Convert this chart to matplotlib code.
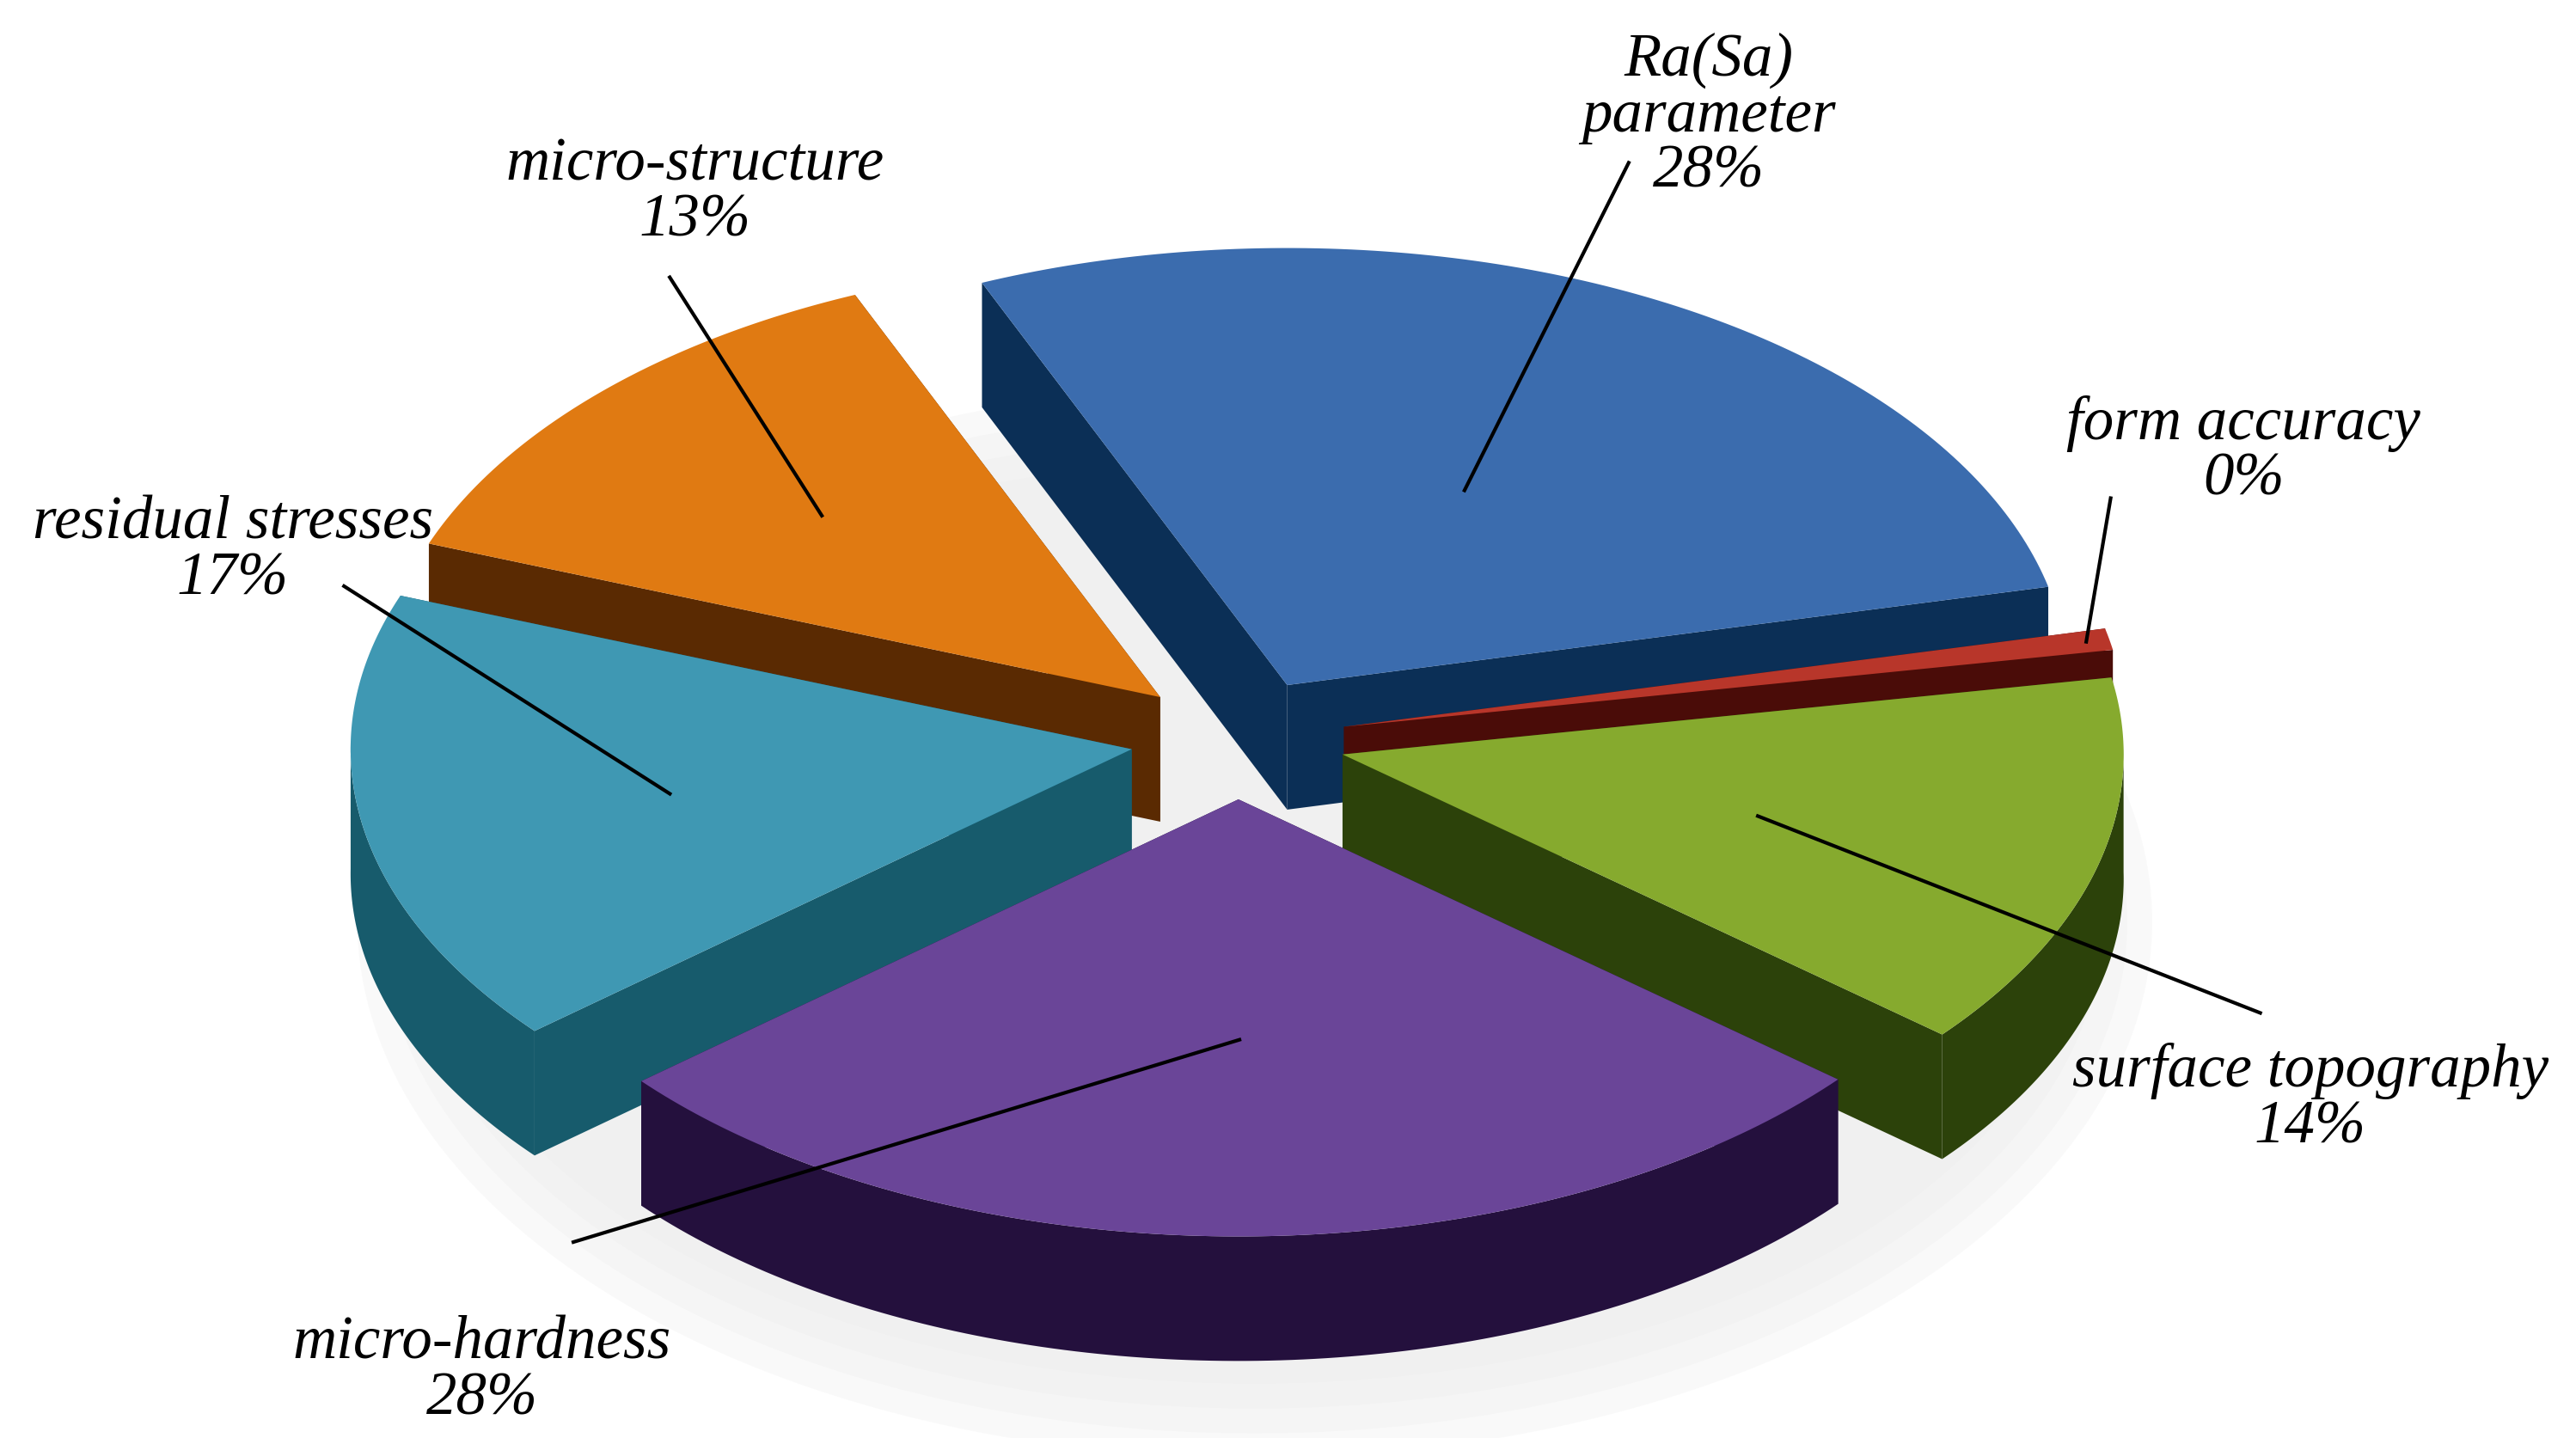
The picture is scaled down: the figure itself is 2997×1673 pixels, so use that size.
import matplotlib.pyplot as plt
import numpy as np
from matplotlib.patches import Polygon, Ellipse

labels = ["Ra(Sa)\nparameter\n28%", "form accuracy\n0%", "surface topography\n14%",
          "micro-hardness\n28%", "residual stresses\n17%", "micro-structure\n13%"]
values = [28, 0.8, 14, 28, 17, 13]
top_colors = ["#3b6cae", "#b8362a", "#86aa2e", "#6a4598", "#3f98b3", "#e07a12"]
side_colors = ["#0b2f56", "#4a0c08", "#2c420a", "#24103d", "#175b6c", "#5a2a02"]
# label text position (reference pixel coords, 1550 wide) and leader line start
label_pos = [(1028, 70), (1350, 272), (1390, 662), (290, 826), (140, 332), (418, 116)]
line_start = [(980, 98), (1270, 300), (1360, 610), (345, 748), (207, 353), (403, 167)]
line_frac = [0.5, 0.97, 0.55, 0.55, 0.6, 0.6]

cx, cy = 745, 445
R, K, DEPTH, EXPL = 470, 0.56, 75, 65
start = np.deg2rad(113)

fig = plt.figure(figsize=(29.97, 16.73), dpi=100)
ax = fig.add_axes([0, 0, 1, 1])
ax.set_xlim(0, 1550)
ax.set_ylim(866, 0)
ax.axis("off")

# soft shadow
for i, a in enumerate(np.linspace(0.05, 0.02, 4)):
    ax.add_patch(Ellipse((cx + 10, cy + 110), 2 * R + 140 - i * 30, 2 * R * K + 120 - i * 30,
                         color="#999999", alpha=a, lw=0, zorder=0))


def pt(t, r, ox, oy, z=0.0):
    return (cx + ox + r * np.cos(t), cy + oy - r * K * np.sin(t) + z)


total = sum(values)
wedges = []
a0 = start
for v in values:
    a1 = a0 - 2 * np.pi * v / total
    wedges.append((a0, a1))
    a0 = a1

order = sorted(range(len(values)), key=lambda i: -np.sin((wedges[i][0] + wedges[i][1]) / 2))
z = 1
for i in order:
    a0, a1 = wedges[i]
    mid = (a0 + a1) / 2
    ox, oy = EXPL * np.cos(mid), -EXPL * K * np.sin(mid)
    c = pt(0, 0, ox, oy)
    cb = pt(0, 0, ox, oy, DEPTH)
    ts = np.linspace(a0, a1, 120)
    # radial faces
    for t in (a0, a1):
        p, pb = pt(t, R, ox, oy), pt(t, R, ox, oy, DEPTH)
        ax.add_patch(Polygon([c, p, pb, cb], closed=True, fc=side_colors[i], ec="none", zorder=z))
    z += 1
    # outer wall (front part)
    front = ts[np.sin(ts) < 0.02]
    if len(front) > 1:
        toparc = [pt(t, R, ox, oy) for t in front]
        botarc = [pt(t, R, ox, oy, DEPTH) for t in front[::-1]]
        ax.add_patch(Polygon(toparc + botarc, closed=True, fc=side_colors[i], ec="none", zorder=z))
    z += 1
    ax.add_patch(Polygon([c] + [pt(t, R, ox, oy) for t in ts], closed=True,
                         fc=top_colors[i], ec="none", zorder=z))
    z += 1
    # leader line to a point on the top face
    end = pt(mid, R * line_frac[i], ox, oy)
    ax.plot([line_start[i][0], end[0]], [line_start[i][1], end[1]], color="black", lw=3, zorder=100)
    ax.text(label_pos[i][0], label_pos[i][1], labels[i], ha="center", va="center",
            fontsize=51, style="italic", family="Liberation Serif", linespacing=1.0, zorder=101)

fig.savefig("out.png", dpi=100, facecolor="white")
